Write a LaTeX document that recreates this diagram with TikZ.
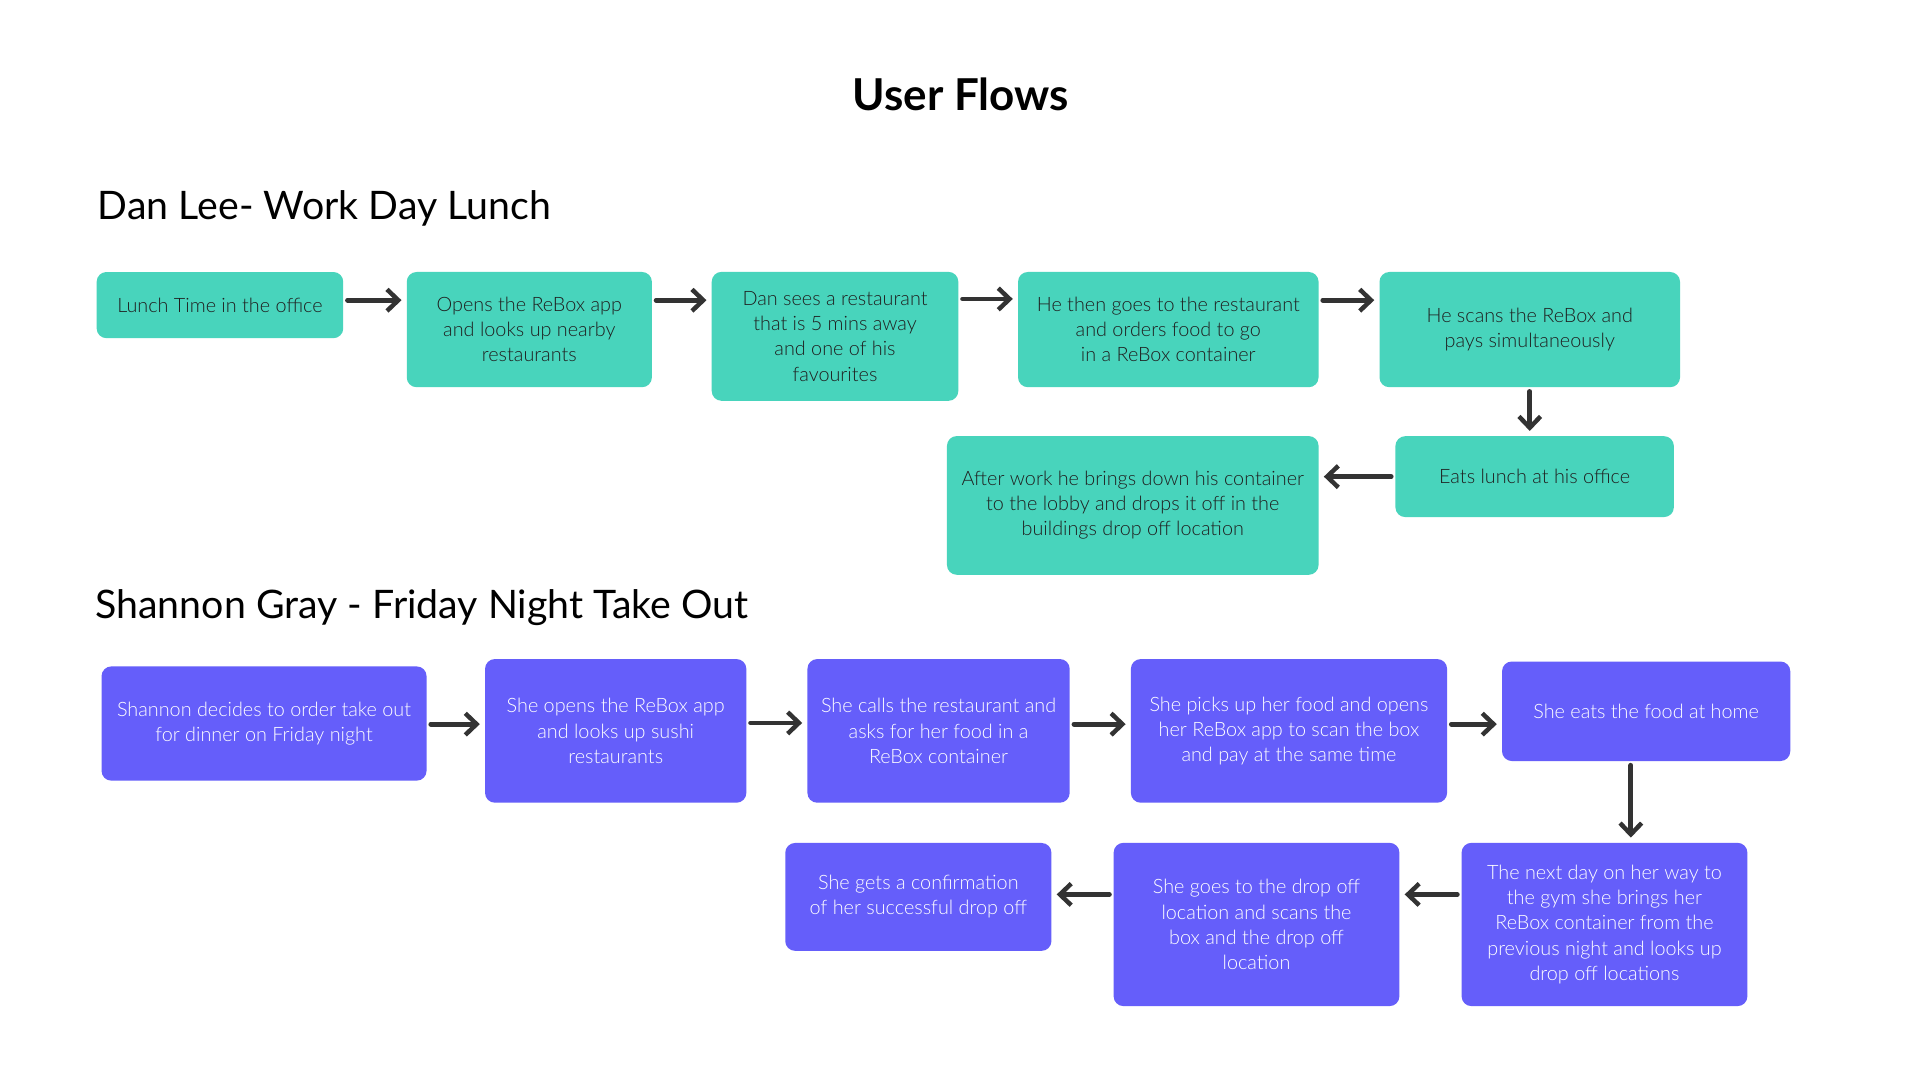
\documentclass[tikz,border=0pt]{standalone}
\usepackage{fontspec}
\setmainfont{Lato}
\newfontface\lightface{Lato Light}
\usepackage{xcolor}
\usepackage{tikz}
\usetikzlibrary{arrows.meta,positioning}

\definecolor{teal}{RGB}{72,212,188}
\definecolor{violet}{RGB}{101,94,250}
\definecolor{ink}{RGB}{51,51,51}

\begin{document}
\begin{tikzpicture}[x=0.025cm, y=-0.025cm,
  >={Straight Barb[length=2.3mm, width=4.4mm, line width=2.6pt]},
  every edge/.style={draw=ink, line width=2.8pt, ->, line cap=round, shorten >=1mm, shorten <=0.8mm},
  stepbox/.style={rounded corners=2mm, align=center, inner sep=2pt, font=\lightface\fontsize{11.5}{14.6}\selectfont},
  dan/.style={stepbox, fill=teal, text=black!88},
  shannon/.style={stepbox, fill=violet, text=white},
  heading/.style={anchor=west, font=\fontsize{22.8}{28}\selectfont}]

\fill[white] (0,0) rectangle (1567,882);
\useasboundingbox (0,0) rectangle (1567,882);

\node[font=\fontsize{25.5}{30}\selectfont\bfseries] (title) at (784,77) {User Flows};
\node[heading] (dan) at (75,170) {Dan Lee- Work Day Lunch};
\node[heading] (shannon) at (73,496) {Shannon Gray - Friday Night Take Out};

% Dan Lee
\node[dan, minimum width=5.03cm, minimum height=1.35cm] (L1) at (179.5,249) {Lunch Time in the office};
\node[dan, minimum width=5.0cm, minimum height=2.35cm] (L2) at (432,269) {Opens the ReBox app\\and looks up nearby\\restaurants};
\node[dan, minimum width=5.03cm, minimum height=2.63cm] (L3) at (681.5,274.5) {Dan sees a restaurant\\that is 5 mins away\\and one of his\\favourites};
\node[dan, minimum width=6.13cm, minimum height=2.35cm] (L4) at (953.5,269) {He then goes to the restaurant\\and orders food to go\\in a ReBox container};
\node[dan, minimum width=6.13cm, minimum height=2.35cm] (L5) at (1248.5,269) {He scans the ReBox and\\pays simultaneously};
\node[dan, minimum width=5.68cm, minimum height=1.65cm] (L6) at (1252.5,389) {Eats lunch at his office};
\node[dan, minimum width=7.58cm, minimum height=2.83cm] (L7) at (924.5,412.5) {After work he brings down his container\\to the lobby and drops it off in the\\buildings drop off location};

% Shannon Gray
\node[shannon, minimum width=6.63cm, minimum height=2.33cm] (S1) at (215.5,590.5) {Shannon decides to order take out\\for dinner on Friday night};
\node[shannon, minimum width=5.33cm, minimum height=2.93cm] (S2) at (502.5,596.5) {She opens the ReBox app\\and looks up sushi\\restaurants};
\node[shannon, minimum width=5.35cm, minimum height=2.93cm] (S3) at (766,596.5) {She calls the restaurant and\\asks for her food in a\\ReBox container};
\node[shannon, minimum width=6.45cm, minimum height=2.93cm] (S4) at (1052,596.5) {She picks up her food and opens\\her ReBox app to scan the box\\and pay at the same time};
\node[shannon, minimum width=5.88cm, minimum height=2.03cm] (S5) at (1343.5,580.5) {She eats the food at home};
\node[shannon, minimum width=5.83cm, minimum height=3.33cm] (S6) at (1309.5,754.5) {The next day on her way to\\the gym she brings her\\ReBox container from the\\previous night and looks up\\drop off locations};
\node[shannon, minimum width=5.83cm, minimum height=3.33cm] (S7) at (1025.5,754.5) {She goes to the drop off\\location and scans the\\box and the drop off\\location};
\node[shannon, minimum width=5.43cm, minimum height=2.2cm] (S8) at (749.5,732) {She gets a confirmation\\of her successful drop off};

\path
(L1.east |- 0,245) edge (L2.west |- 0,245)
(L2.east |- 0,245) edge (L3.west |- 0,245)
(L3.east |- 0,244) edge (L4.west |- 0,244)
(L4.east |- 0,245) edge (L5.west |- 0,245)
(L5.south) edge (L5.south |- L6.north)
(L6.west |- 0,389) edge (L7.east |- 0,389)

(S1.east |- 0,591) edge (S2.west |- 0,591)
(S2.east |- 0,590) edge (S3.west |- 0,590)
(S3.east |- 0,591) edge (S4.west |- 0,591)
(S4.east |- 0,591) edge (S5.west |- 0,591)
(S5.south -| 1331,0) edge (S6.north -| 1331,0)
(S6.west |- 0,730) edge (S7.east |- 0,730)
(S7.west |- 0,730) edge (S8.east |- 0,730);

\end{tikzpicture}
\end{document}
